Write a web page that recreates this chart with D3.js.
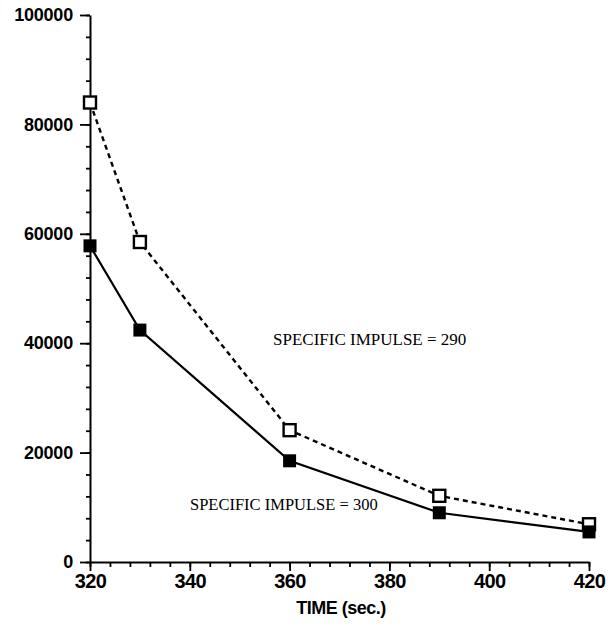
<!DOCTYPE html>
<html>
<head>
<meta charset="utf-8">
<script src="https://cdn.jsdelivr.net/npm/d3@7"></script>
<style>
  body { margin: 0; background: #fff; }
  .tick text { font-family: "Liberation Sans", Arial, sans-serif; font-weight: bold; }
</style>
</head>
<body>
<svg id="chart"></svg>
<script>
// data
var times = [320, 330, 360, 390, 420];
var isp290 = [84000, 58500, 24100, 12100, 6900];
var isp300 = [57800, 42400, 18500, 9000, 5500];
var xTicks = [320, 340, 360, 380, 400, 420];
var yTicks = [0, 20000, 40000, 60000, 80000, 100000];

var width = 608, height = 631;
var svg = d3.select("#chart").attr("width", width).attr("height", height);

var x = d3.scaleLinear().domain([320, 420]).range([90, 589]);
var y = d3.scaleLinear().domain([0, 100000]).range([562, 15]);

// minor ticks first
svg.append("g")
    .attr("transform", "translate(0," + y(0) + ")")
    .call(d3.axisBottom(x).tickValues(d3.range(320, 421, 4)).tickSize(5).tickFormat(""))
    .call(function(g) { g.select(".domain").remove(); });
svg.append("g")
    .attr("transform", "translate(" + x(320) + ",0)")
    .call(d3.axisLeft(y).tickValues(d3.range(0, 100001, 4000)).tickSize(4).tickFormat(""))
    .call(function(g) { g.select(".domain").remove(); });

// major axes
var xAxis = svg.append("g")
    .attr("transform", "translate(0," + y(0) + ")")
    .call(d3.axisBottom(x).tickValues(xTicks).tickSize(9).tickSizeOuter(0).tickPadding(3).tickFormat(d3.format("d")));
xAxis.selectAll("text").attr("font-size", 20).attr("fill", "#000").attr("letter-spacing", -0.6);

var yAxis = svg.append("g")
    .attr("transform", "translate(" + x(320) + ",0)")
    .call(d3.axisLeft(y).tickValues(yTicks).tickSize(10).tickSizeOuter(0).tickPadding(7).tickFormat(d3.format("d")));
yAxis.selectAll("text").attr("font-size", 18).attr("fill", "#000").attr("letter-spacing", -0.2);

svg.selectAll(".domain").attr("stroke", "#000").attr("stroke-width", 2);
svg.selectAll(".tick line").attr("stroke", "#000").attr("stroke-width", 1.8);

svg.append("text")
    .attr("x", 341).attr("y", 614)
    .attr("text-anchor", "middle")
    .attr("font-family", "Liberation Sans, Arial, sans-serif")
    .attr("font-weight", "bold")
    .attr("font-size", 18)
    .attr("letter-spacing", -0.5)
    .text("TIME (sec.)");

var line = d3.line()
    .x(function(d, i) { return x(times[i]); })
    .y(function(d) { return y(d); });

svg.append("path")
    .datum(isp290)
    .attr("d", line)
    .attr("fill", "none")
    .attr("stroke", "#000")
    .attr("stroke-width", 2.4)
    .attr("stroke-dasharray", "5,4");

svg.append("path")
    .datum(isp300)
    .attr("d", line)
    .attr("fill", "none")
    .attr("stroke", "#000")
    .attr("stroke-width", 2.2);

var s = 12;
svg.selectAll(".open")
    .data(isp290)
    .enter().append("rect")
    .attr("class", "open")
    .attr("x", function(d, i) { return x(times[i]) - s / 2; })
    .attr("y", function(d) { return y(d) - s / 2; })
    .attr("width", s).attr("height", s)
    .attr("fill", "#fff")
    .attr("stroke", "#000")
    .attr("stroke-width", 2.4);

svg.selectAll(".filled")
    .data(isp300)
    .enter().append("rect")
    .attr("class", "filled")
    .attr("x", function(d, i) { return x(times[i]) - s / 2 - 0.5; })
    .attr("y", function(d) { return y(d) - s / 2 - 0.5; })
    .attr("width", s + 1).attr("height", s + 1)
    .attr("fill", "#000");

// labels
svg.append("text")
    .attr("x", 273).attr("y", 345)
    .attr("font-family", "Liberation Serif, Times New Roman, serif")
    .attr("font-size", 17)
    .text("SPECIFIC IMPULSE = 290");

svg.append("text")
    .attr("x", 190).attr("y", 510)
    .attr("font-family", "Liberation Serif, Times New Roman, serif")
    .attr("font-size", 16.5)
    .text("SPECIFIC IMPULSE = 300");
</script>
</body>
</html>
